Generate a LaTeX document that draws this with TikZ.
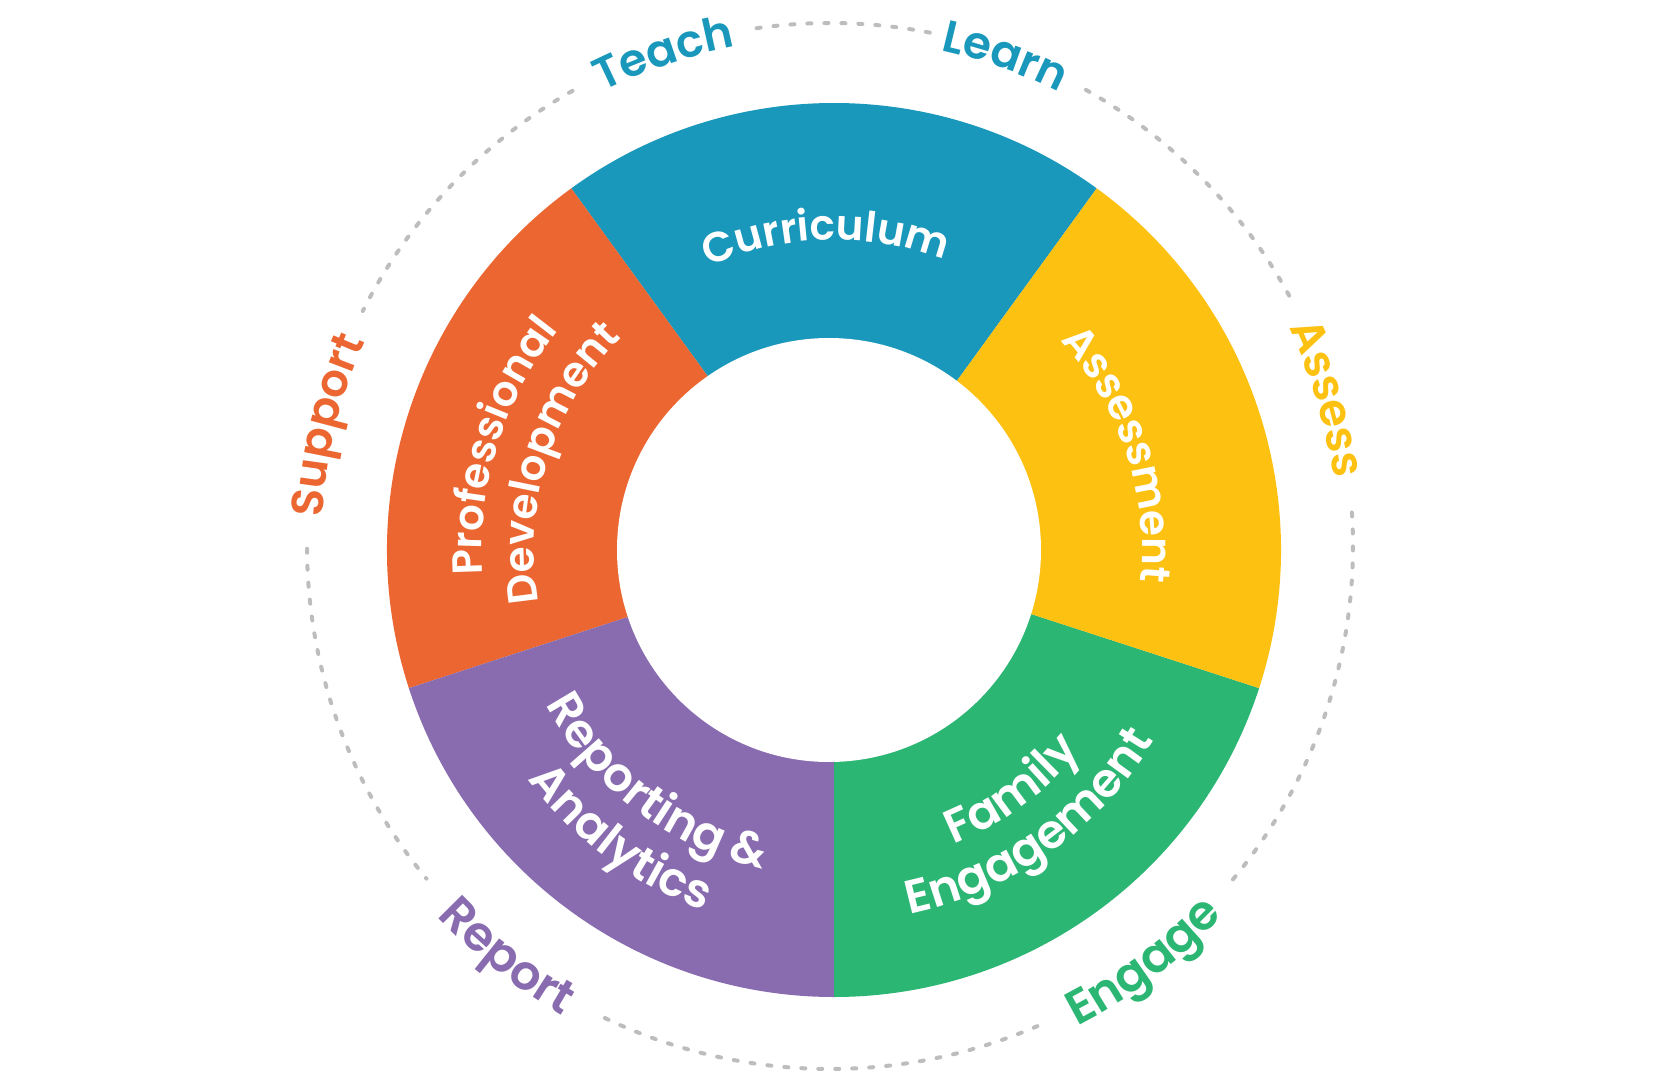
\documentclass[tikz,border=0pt]{standalone}
\usepackage{fontspec}
\setmainfont{Poppins}[BoldFont={Poppins SemiBold}]
\usetikzlibrary{decorations.text}
\definecolor{cblue}{HTML}{1A98BC}
\definecolor{corange}{HTML}{EC6631}
\definecolor{cyellow}{HTML}{FDC112}
\definecolor{cgreen}{HTML}{2CB673}
\definecolor{cpurple}{HTML}{896CAF}
\definecolor{cdash}{HTML}{BDBDBD}
\newcommand\segfont{\fontsize{42}{42}\selectfont\bfseries}
\newcommand\segfontb{\fontsize{47}{47}\selectfont\bfseries}
\newcommand\labfont{\fontsize{45}{45}\selectfont\bfseries}
\newcommand\labfontb{\fontsize{48}{48}\selectfont\bfseries}
% clockwise arc text: font, centre angle, baseline radius, colour, text
\newcommand\cwtext[5]{%
  \path[decorate,decoration={text along path,text={|#1|#5},text align=center,text color=#4}]
    (#2+60:#3) arc[start angle=#2+60,end angle=#2-60,radius=#3pt];}
% counter-clockwise arc text
\newcommand\ccwtext[5]{%
  \path[decorate,decoration={text along path,text={|#1|#5},text align=center,text color=#4}]
    (#2-60:#3) arc[start angle=#2-60,end angle=#2+60,radius=#3pt];}
\tikzset{
  dashline/.style={draw=cdash,line width=4pt,line cap=round,dash pattern=on 4pt off 13pt},
}
\begin{document}
\begin{tikzpicture}[x=1pt,y=1pt]
\useasboundingbox (-834,-532) rectangle (822,550);
\coordinate (O) at (0,0);
% segments
\fill[cblue]   (O) -- (54:447)  arc[start angle=54, end angle=126,radius=447pt] -- cycle;
\fill[corange] (O) -- (126:447) arc[start angle=126,end angle=198,radius=447pt] -- cycle;
\fill[cpurple] (O) -- (198:447) arc[start angle=198,end angle=270,radius=447pt] -- cycle;
\fill[cgreen]  (O) -- (270:447) arc[start angle=270,end angle=342,radius=447pt] -- cycle;
\fill[cyellow] (O) -- (-18:447) arc[start angle=-18,end angle=54, radius=447pt] -- cycle;
\fill[white] (-5,0) circle[radius=212pt];
% segment texts
\cwtext{\segfont}{91.5}{310}{white}{Curriculum}
\cwtext{\segfont}{18.5}{308}{white}{Assessment}
\cwtext{\segfont}{162.7}{352}{white}{Professional}
\cwtext{\segfont}{162.5}{300}{white}{Development}
\ccwtext{\segfontb}{232.8}{327}{white}{Reporting {\&}}
\ccwtext{\segfontb}{233.5}{383}{white}{Analytics}
\ccwtext{\segfontb}{-53.5}{318}{white}{Family}
\ccwtext{\segfontb}{-54.5}{372}{white}{Engagement}
% outer dashed ring and labels
\begin{scope}[shift={(-4,4)}]
  \draw[dashline] (79:523) arc[start angle=79,end angle=98.2,radius=523pt];
  \draw[dashline] (28.6:523) arc[start angle=28.6,end angle=62,radius=523pt];
  \draw[dashline] (-39.6:523) arc[start angle=-39.6,end angle=3.7,radius=523pt];
  \draw[dashline] (244.5:523) arc[start angle=244.5,end angle=293.5,radius=523pt];
  \draw[dashline] (180.3:523) arc[start angle=180.3,end angle=219.5,radius=523pt];
  \draw[dashline] (119.5:523) arc[start angle=119.5,end angle=153.3,radius=523pt];
  \cwtext{\labfont}{108.7}{508}{cblue}{Teach}
  \cwtext{\labfont}{70.3}{508}{cblue}{Learn}
  \cwtext{\labfont}{16.5}{508}{cyellow}{Assess}
  \cwtext{\labfont}{166.5}{508}{corange}{Support}
  \ccwtext{\labfontb}{-53}{540}{cgreen}{Engage}
  \ccwtext{\labfontb}{231.8}{540}{cpurple}{Report}
\end{scope}
\end{tikzpicture}
\end{document}
